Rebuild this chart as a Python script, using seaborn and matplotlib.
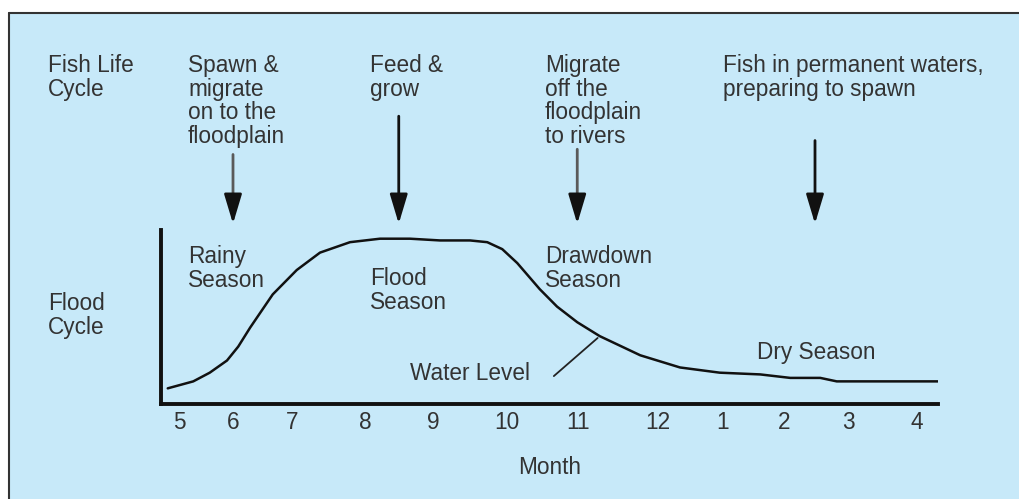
import numpy as np
import pandas as pd
import matplotlib
matplotlib.use("Agg")
import matplotlib.pyplot as plt
from matplotlib.patches import Rectangle
from matplotlib.lines import Line2D
import seaborn as sns

# month ticks (irregular spacing as in the original diagram)
month_labels = ["5", "6", "7", "8", "9", "10", "11", "12", "1", "2", "3", "4"]
month_pos = [0.25, 0.96, 1.75, 2.73, 3.63, 4.61, 5.56, 6.63, 7.49, 8.31, 9.17, 10.08]

# water level curve
level_x = [0.09, 0.43, 0.65, 0.88, 1.03, 1.19, 1.49, 1.81, 2.12, 2.52, 2.92, 3.32, 3.72,
           4.12, 4.35, 4.55, 4.75, 5.05, 5.28, 5.55, 5.85, 6.39, 6.92, 7.45, 7.99, 8.39,
           8.79, 9.01, 9.59, 10.36]
level_y = [0.09, 0.13, 0.18, 0.25, 0.33, 0.44, 0.63, 0.77, 0.87, 0.93, 0.95, 0.95, 0.94,
           0.94, 0.93, 0.89, 0.81, 0.66, 0.56, 0.47, 0.39, 0.28, 0.21, 0.18, 0.17, 0.15,
           0.15, 0.13, 0.13, 0.13]

# fish life cycle stages and where their arrows point
stage_text = ["Spawn &\nmigrate\non to the\nfloodplain", "Feed &\ngrow",
              "Migrate\noff the\nfloodplain\nto rivers",
              "Fish in permanent waters,\npreparing to spawn"]
arrow_x = [0.96, 3.17, 5.55, 8.72]
arrow_top = [1.45, 1.67, 1.48, 1.53]
shaft_col = ["#5a5a5a", "#111111", "#5a5a5a", "#111111"]

seasons = ["Rainy\nSeason", "Flood\nSeason", "Drawdown\nSeason", "Dry Season"]

df = pd.DataFrame({"x": level_x, "level": level_y})

sns.set_theme(style="white")
plt.rcParams["font.family"] = ["Liberation Sans", "DejaVu Sans"]
BG = "#C7E9F9"
TXT = "#333333"
FS = 16.3
LS = 1.04

fig = plt.figure(figsize=(10.19, 4.99), dpi=100)
fig.patch.set_facecolor("white")
fig.patches.append(Rectangle((9 / 1019, 0), 1 - 9 / 1019, 1 - 13 / 499,
                             transform=fig.transFigure, facecolor=BG, edgecolor="none", zorder=-10))
fig.lines.append(Line2D([9 / 1019, 9 / 1019], [0, 1 - 13 / 499], transform=fig.transFigure,
                        color="#333333", lw=1.5, zorder=-5))
fig.lines.append(Line2D([9 / 1019, 1], [1 - 13 / 499, 1 - 13 / 499], transform=fig.transFigure,
                        color="#333333", lw=1.5, zorder=-5))

ax = fig.add_axes([161 / 1019, 95 / 499, 777 / 1019, 174 / 499])
ax.set_facecolor("none")
sns.lineplot(data=df, x="x", y="level", ax=ax, color="#111111", lw=1.8,
             solid_joinstyle="round", solid_capstyle="round")
ax.set_xlim(0, 10.36)
ax.set_ylim(0, 1)
ax.set_xticks(month_pos)
ax.set_xticklabels(month_labels, fontsize=FS, color=TXT)
ax.set_yticks([])
ax.tick_params(axis="x", length=0, pad=5)
ax.set_xlabel("Month", fontsize=FS, color=TXT, labelpad=16)
ax.set_ylabel("")
for s in ["top", "right"]:
    ax.spines[s].set_visible(False)
for s in ["left", "bottom"]:
    ax.spines[s].set_color("#111111")
    ax.spines[s].set_linewidth(2.8)

# arrows from stage text down to the curve
for xa, yt, c in zip(arrow_x, arrow_top, shaft_col):
    ax.annotate("", xy=(xa, 1.18), xytext=(xa, yt),
                arrowprops=dict(arrowstyle="-", color=c, lw=2), annotation_clip=False)
    ax.annotate("", xy=(xa, 1.02), xytext=(xa, 1.19),
                arrowprops=dict(arrowstyle="-|>,head_length=1.5,head_width=0.45",
                                color="#111111", lw=2), annotation_clip=False)

# left side labels
fig.text(48 / 1019, 1 - 54 / 499, "Fish Life\nCycle", fontsize=FS, color=TXT, va="top", linespacing=LS)
fig.text(48 / 1019, 1 - 292 / 499, "Flood\nCycle", fontsize=FS, color=TXT, va="top", linespacing=LS)

stage_left = [188, 370, 545, 723]
for xl, t in zip(stage_left, stage_text):
    fig.text(xl / 1019, 1 - 54 / 499, t, fontsize=FS, color=TXT, va="top", linespacing=LS)

season_pos = [(188, 245), (370, 267), (545, 245), (757, 341)]
for (xl, yt), t in zip(season_pos, seasons):
    fig.text(xl / 1019, 1 - yt / 499, t, fontsize=FS, color=TXT, va="top", linespacing=LS)

fig.text(410 / 1019, 1 - 374 / 499, "Water Level", fontsize=FS, color=TXT, va="center")
ax.annotate("", xy=(5.85, 0.39), xytext=(5.21, 0.15),
            arrowprops=dict(arrowstyle="-", color="#222222", lw=1.3))

fig.savefig("out.png", dpi=100)
